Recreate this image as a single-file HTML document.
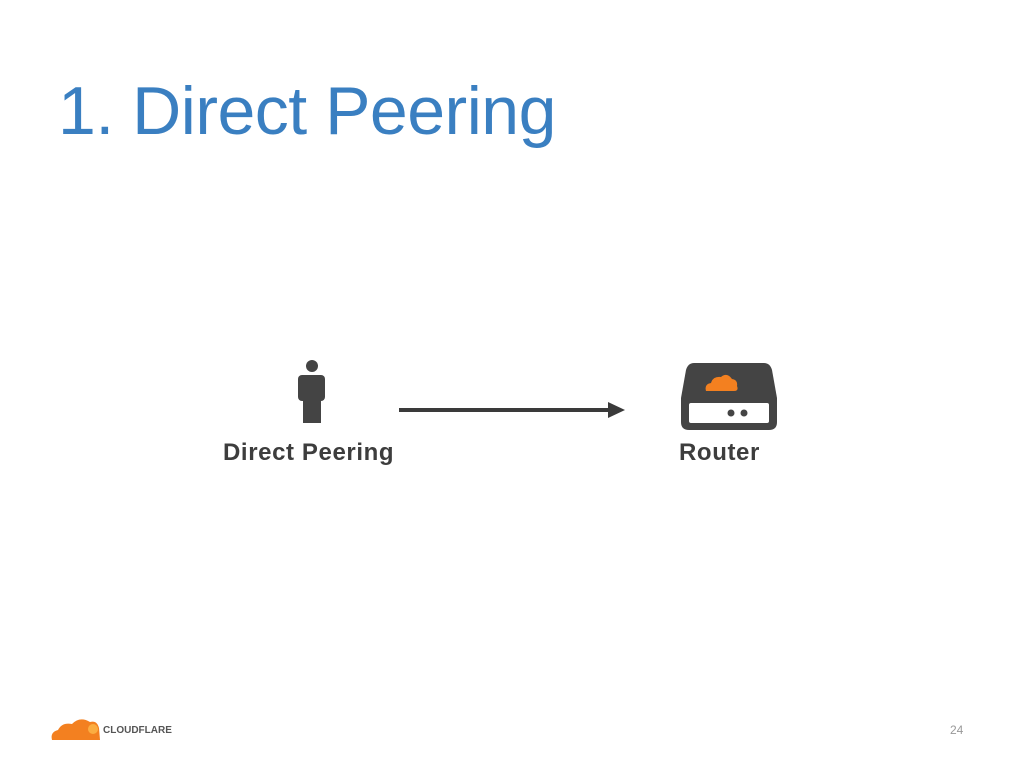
<!DOCTYPE html>
<html><head><style>
html,body{margin:0;padding:0;background:#fff;}
body{width:1024px;height:768px;position:relative;overflow:hidden;font-family:"Liberation Sans",sans-serif;}
.t{position:absolute;left:58px;top:72px;font-size:68px;color:#3a7fc1;white-space:nowrap;letter-spacing:-0.5px;}
.l{position:absolute;font-weight:bold;font-size:24px;color:#3d3d3d;white-space:nowrap;letter-spacing:0.6px;}
.n{position:absolute;left:950px;top:723px;font-size:12px;color:#999;}
</style></head><body>
<div class="t">1. Direct Peering</div>
<svg width="1024" height="768" style="position:absolute;left:0;top:0">
<circle cx="312" cy="366" r="6" fill="#444"/>
<rect x="298" y="375" width="27" height="26" rx="4" fill="#444"/>
<rect x="303" y="395" width="18" height="28" fill="#444"/>
<rect x="399" y="408" width="212" height="4" fill="#3a3a3a"/>
<polygon points="608,402 625,410 608,418" fill="#3a3a3a"/>
<path d="M694,363 L764,363 Q770,363 772,370 L777,398 L777,422 Q777,430 769,430 L689,430 Q681,430 681,422 L681,398 L686,370 Q688,363 694,363 Z" fill="#444"/>
<rect x="689" y="403" width="80" height="20" rx="2" fill="#fff"/>
<circle cx="731" cy="413" r="3.5" fill="#444"/>
<circle cx="744" cy="413" r="3.5" fill="#444"/>
<path d="M706,391 Q704,384 711,383 Q713,376 721,377 Q727,372 732,379 Q738,380 737,386 Q739,391 734,391 Z" fill="#f38020"/>
<path d="M52,740 Q50,732 58,730 Q62,722 72,724 Q80,716 90,722 Q97,720 99,728 L100,740 Z" fill="#f38020"/>
<circle cx="93" cy="729" r="5" fill="#fbad41"/>
</svg>
<div class="l" style="left:223px;top:439px">Direct Peering</div>
<div class="l" style="left:679px;top:439px">Router</div>
<div style="position:absolute;left:103px;top:725px;font-size:10px;font-weight:bold;color:#555;letter-spacing:0px">CLOUDFLARE</div>
<div class="n">24</div>
</body></html>
